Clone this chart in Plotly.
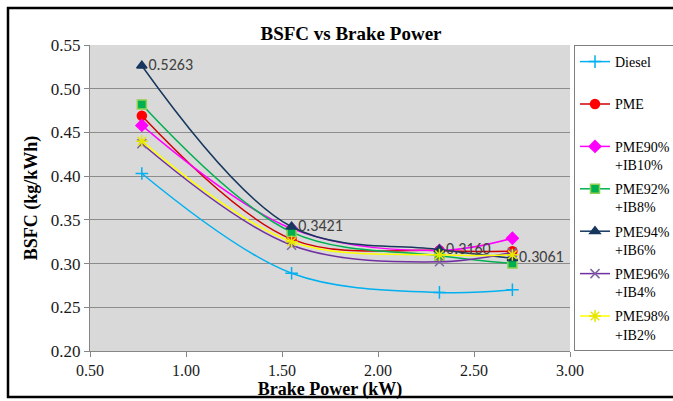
import plotly.graph_objects as go

power = [0.77, 1.55, 2.32, 2.70]

series_names = ["Diesel", "PME", "PME90%<br>+IB10%", "PME92%<br>+IB8%",
                "PME94%<br>+IB6%", "PME96%<br>+IB4%", "PME98%<br>+IB2%"]
diesel = [0.403, 0.289, 0.267, 0.270]
pme = [0.469, 0.328, 0.315, 0.314]
pme90 = [0.458, 0.340, 0.315, 0.329]
pme92 = [0.482, 0.336, 0.309, 0.300]
pme94 = [0.5263, 0.3421, 0.3160, 0.3061]
pme96 = [0.437, 0.321, 0.302, 0.313]
pme98 = [0.440, 0.325, 0.310, 0.310]
pme94_labels = ["0.5263", "0.3421", "0.3160", "0.3061"]

x_ticks = [0.5, 1.0, 1.5, 2.0, 2.5, 3.0]
y_ticks = [0.20, 0.25, 0.30, 0.35, 0.40, 0.45, 0.50, 0.55]

styles = [
    dict(line="#00B0F0", marker="#00B0F0", symbol="cross-thin", size=9, mline="#00B0F0"),
    dict(line="#D00000", marker="#FF0000", symbol="circle", size=9, mline="#FF0000"),
    dict(line="#FF00FF", marker="#FF00FF", symbol="diamond", size=9, mline="#FF00FF"),
    dict(line="#00B050", marker="#00B050", symbol="square", size=9, mline="#92D050"),
    dict(line="#17375E", marker="#17375E", symbol="triangle-up", size=9, mline="#17375E"),
    dict(line="#7030A0", marker="#8064A2", symbol="x-thin", size=9, mline="#8064A2"),
    dict(line="#FFFF00", marker="#FFFF00", symbol="asterisk", size=10, mline="#E6E600"),
]
all_vals = [diesel, pme, pme90, pme92, pme94, pme96, pme98]

fig = go.Figure()
for i, (name, vals, st) in enumerate(zip(series_names, all_vals, styles)):
    legend_name = name if "<br>" in name else name + "<br>&nbsp;"
    kw = {}
    mode = "lines+markers"
    if i == 4:
        mode = "lines+markers+text"
        kw = dict(text=pme94_labels, textposition="middle right",
                  textfont=dict(family="Carlito, Lato, sans-serif", size=16, color="#404040"))
    fig.add_trace(go.Scatter(
        x=power, y=vals, name=legend_name, mode=mode,
        legendgroup=f"g{i}", legendrank=i + 1,
        line=dict(color=st["line"], width=1.5, shape="spline", smoothing=1.0),
        marker=dict(color=st["marker"], symbol=st["symbol"], size=st["size"],
                    line=dict(color=st["mline"], width=1.5)),
        **kw))

W, H = 673, 401
L, T = 90, 45
R = W - 570
B = H - 351
pw, ph = W - L - R, H - T - B

def px_x(px):
    return (px - L) / pw

def px_y(py):
    return (H - B - py) / ph

fig.add_shape(type="rect", xref="paper", yref="paper",
              x0=px_x(8), x1=px_x(680), y0=px_y(397), y1=px_y(8),
              line=dict(color="black", width=2.5), layer="below")

fig.update_layout(
    width=W, height=H,
    margin=dict(l=L, r=R, t=T, b=B, autoexpand=False),
    paper_bgcolor="white",
    plot_bgcolor="#D9D9D9",
    font=dict(family="Liberation Serif, Times New Roman, serif", color="#000000"),
    title=dict(text="<b>BSFC vs Brake Power</b>", x=351 / W, xref="container",
               xanchor="center", y=1 - 33 / H, yanchor="middle",
               font=dict(size=19, family="Liberation Serif, serif", color="black")),
    xaxis=dict(range=[0.5, 3.0], tickvals=x_ticks, tickformat=".2f",
               showgrid=False, zeroline=False, showline=True, linecolor="#868686",
               ticks="outside", ticklen=5, tickcolor="#868686",
               tickfont=dict(size=16, color="#1a1a1a"),
               title=dict(text="<b>Brake Power (kW)</b>", font=dict(size=18), standoff=4)),
    yaxis=dict(range=[0.2, 0.55], tickvals=y_ticks, tickformat=".2f",
               showgrid=True, gridcolor="#8C8C8C", gridwidth=1, zeroline=False,
               showline=True, linecolor="#868686",
               ticks="outside", ticklen=5, tickcolor="#868686",
               tickfont=dict(size=17, color="#1a1a1a"),
               title=dict(text="<b>BSFC (kg/kWh)</b>", font=dict(size=18), standoff=8)),
    legend=dict(x=px_x(574), y=px_y(45), xanchor="left", yanchor="top",
                bgcolor="white", bordercolor="#7F7F7F", borderwidth=1,
                font=dict(size=14, family="Liberation Serif, serif", color="black"),
                traceorder="grouped", tracegroupgap=3, valign="top",
                itemwidth=30),
    showlegend=True,
)

fig.write_html("out.html", config={"displayModeBar": False},
               post_script="document.body.style.margin='0';document.body.style.overflow='hidden';")
